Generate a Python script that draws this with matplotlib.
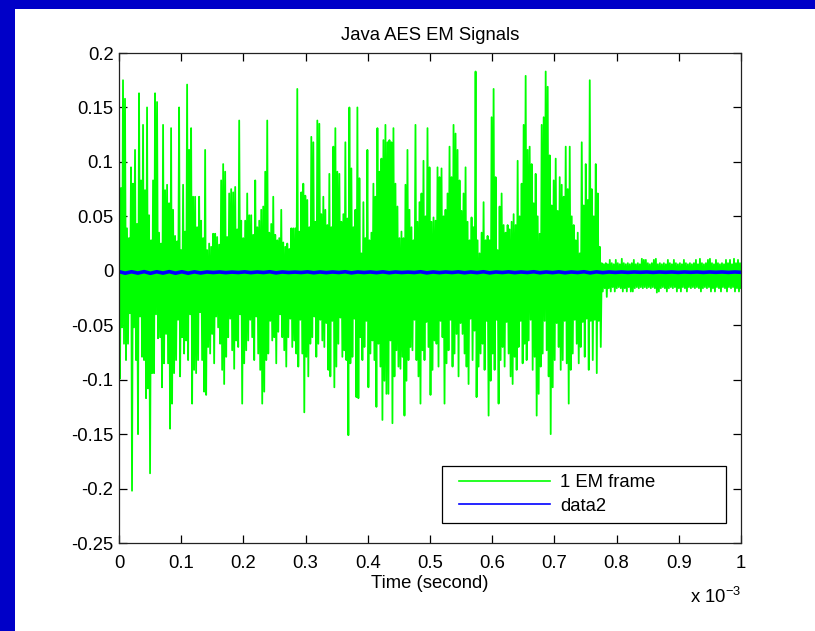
import numpy as np
import matplotlib
matplotlib.use("Agg")
import matplotlib.pyplot as plt
from matplotlib.patches import Rectangle
from matplotlib.legend_handler import HandlerLine2D

plt.rcParams['font.family'] = ['Liberation Sans', 'DejaVu Sans']
plt.rcParams['mathtext.fontset'] = 'custom'
plt.rcParams['mathtext.rm'] = 'Liberation Sans'
plt.rcParams['mathtext.it'] = 'Liberation Sans:italic'

# ---------------- data (volts) ----------------
# Positive / negative excursions of the EM frame, active part (0 .. ~0.775 ms)
active_pos = [
    0.134, 0.076, 0.175, 0.158, 0.039, 0.030, 0.095, 0.080, 0.111, 0.043,
    0.163, 0.083, 0.134, 0.074, 0.150, 0.051, 0.028, 0.083, 0.163, 0.155,
    0.035, 0.025, 0.134, 0.074, 0.079, 0.062, 0.131, 0.056, 0.032, 0.027,
    0.150, 0.019, 0.079, 0.036, 0.171, 0.111, 0.131, 0.068, 0.068, 0.040,
    0.068, 0.046, 0.030, 0.111, 0.019, 0.025, 0.022, 0.034, 0.034, 0.031,
    0.024, 0.083, 0.098, 0.091, 0.031, 0.071, 0.075, 0.072, 0.077, 0.038,
    0.138, 0.046, 0.030, 0.046, 0.071, 0.051, 0.051, 0.033, 0.083, 0.040,
    0.046, 0.056, 0.059, 0.091, 0.138, 0.035, 0.043, 0.068, 0.033, 0.028,
    0.030, 0.056, 0.026, 0.022, 0.025, 0.020, 0.039, 0.039, 0.039, 0.167,
    0.036, 0.072, 0.080, 0.069, 0.065, 0.040, 0.123, 0.118, 0.045, 0.138,
    0.135, 0.052, 0.068, 0.056, 0.042, 0.089, 0.040, 0.114, 0.131, 0.091,
    0.089, 0.045, 0.052, 0.118, 0.048, 0.150, 0.094, 0.040, 0.056, 0.150,
    0.085, 0.016, 0.063, 0.030, 0.111, 0.028, 0.035, 0.080, 0.068, 0.131,
    0.091, 0.103, 0.120, 0.134, 0.118, 0.120, 0.118, 0.131, 0.080, 0.059,
    0.030, 0.036, 0.030, 0.079, 0.111, 0.056, 0.040, 0.028, 0.134, 0.045,
    0.063, 0.071, 0.101, 0.050, 0.131, 0.095, 0.045, 0.049, 0.046, 0.095,
    0.086, 0.094, 0.050, 0.056, 0.071, 0.114, 0.086, 0.134, 0.126, 0.111,
    0.083, 0.055, 0.071, 0.095, 0.045, 0.028, 0.049, 0.040, 0.183, 0.028,
    0.016, 0.035, 0.063, 0.028, 0.032, 0.028, 0.141, 0.167, 0.086, 0.019,
    0.059, 0.071, 0.042, 0.035, 0.042, 0.038, 0.045, 0.052, 0.042, 0.101,
    0.050, 0.080, 0.134, 0.179, 0.111, 0.114, 0.098, 0.062, 0.089, 0.050,
    0.034, 0.134, 0.141, 0.183, 0.169, 0.106, 0.060, 0.083, 0.103, 0.055,
    0.086, 0.079, 0.068, 0.114, 0.075, 0.114, 0.050, 0.042, 0.028, 0.035,
    0.016, 0.118, 0.060, 0.098, 0.065, 0.175, 0.075, 0.050, 0.098, 0.071,
    0.022,
]
active_neg = [
    -0.099, -0.052, -0.067, -0.082, -0.067, -0.039, -0.202, -0.052, -0.082, -0.150,
    -0.042, -0.079, -0.082, -0.117, -0.108, -0.186, -0.094, -0.094, -0.040, -0.062,
    -0.061, -0.107, -0.085, -0.058, -0.085, -0.145, -0.122, -0.094, -0.082, -0.045,
    -0.097, -0.061, -0.076, -0.064, -0.082, -0.040, -0.122, -0.091, -0.094, -0.082,
    -0.038, -0.082, -0.111, -0.114, -0.070, -0.076, -0.058, -0.085, -0.042, -0.052,
    -0.067, -0.091, -0.104, -0.079, -0.061, -0.044, -0.073, -0.090, -0.064, -0.070,
    -0.040, -0.122, -0.085, -0.073, -0.064, -0.045, -0.061, -0.082, -0.042, -0.076,
    -0.091, -0.122, -0.111, -0.082, -0.076, -0.046, -0.064, -0.061, -0.085, -0.056,
    -0.040, -0.061, -0.073, -0.088, -0.061, -0.044, -0.070, -0.064, -0.076, -0.088,
    -0.045, -0.076, -0.130, -0.079, -0.097, -0.067, -0.061, -0.042, -0.079, -0.067,
    -0.045, -0.064, -0.070, -0.048, -0.091, -0.097, -0.046, -0.107, -0.088, -0.067,
    -0.043, -0.079, -0.073, -0.082, -0.151, -0.085, -0.079, -0.044, -0.116, -0.117,
    -0.061, -0.082, -0.070, -0.046, -0.107, -0.076, -0.064, -0.082, -0.125, -0.067,
    -0.088, -0.137, -0.101, -0.113, -0.113, -0.064, -0.140, -0.097, -0.073, -0.088,
    -0.090, -0.079, -0.133, -0.101, -0.082, -0.070, -0.073, -0.045, -0.082, -0.097,
    -0.122, -0.073, -0.082, -0.047, -0.070, -0.114, -0.091, -0.064, -0.067, -0.088,
    -0.046, -0.061, -0.122, -0.085, -0.073, -0.045, -0.088, -0.076, -0.058, -0.097,
    -0.048, -0.058, -0.076, -0.088, -0.104, -0.044, -0.082, -0.055, -0.116, -0.088,
    -0.076, -0.067, -0.091, -0.046, -0.133, -0.101, -0.076, -0.091, -0.045, -0.122,
    -0.082, -0.070, -0.088, -0.047, -0.076, -0.097, -0.104, -0.079, -0.091, -0.070,
    -0.046, -0.085, -0.067, -0.082, -0.064, -0.045, -0.091, -0.079, -0.133, -0.113,
    -0.088, -0.076, -0.046, -0.073, -0.097, -0.150, -0.107, -0.082, -0.048, -0.070,
    -0.091, -0.082, -0.046, -0.085, -0.122, -0.091, -0.076, -0.045, -0.067, -0.085,
    -0.070, -0.047, -0.079, -0.044, -0.091, -0.046, -0.082, -0.045, -0.094, -0.046,
    -0.070,
]
# Quiet tail (~0.775 .. 1 ms)
tail_pos = [
    0.007, 0.006, 0.007, 0.006, 0.010, 0.007, 0.006, 0.010, 0.007, 0.006,
    0.011, 0.007, 0.006, 0.007, 0.006, 0.007, 0.010, 0.006, 0.007, 0.006,
    0.011, 0.010, 0.010, 0.007, 0.006, 0.007, 0.010, 0.011, 0.006, 0.007,
    0.006, 0.007, 0.006, 0.010, 0.007, 0.006, 0.010, 0.007, 0.006, 0.007,
    0.006, 0.010, 0.007, 0.006, 0.007, 0.006, 0.007, 0.010, 0.006, 0.011,
    0.007, 0.006, 0.007, 0.010, 0.011, 0.007, 0.006, 0.010, 0.007, 0.006,
    0.007, 0.006, 0.010, 0.007, 0.010, 0.006, 0.011, 0.007, 0.010, 0.007,
]
tail_neg = [
    -0.019, -0.016, -0.024, -0.016, -0.019, -0.015, -0.019, -0.016, -0.015, -0.016,
    -0.019, -0.016, -0.019, -0.015, -0.019, -0.019, -0.016, -0.015, -0.016, -0.015,
    -0.016, -0.015, -0.016, -0.015, -0.016, -0.015, -0.016, -0.020, -0.019, -0.016,
    -0.015, -0.016, -0.019, -0.016, -0.015, -0.016, -0.015, -0.019, -0.016, -0.019,
    -0.015, -0.016, -0.019, -0.015, -0.016, -0.015, -0.016, -0.015, -0.016, -0.019,
    -0.016, -0.015, -0.016, -0.015, -0.019, -0.016, -0.019, -0.015, -0.016, -0.019,
    -0.015, -0.016, -0.019, -0.015, -0.016, -0.015, -0.019, -0.016, -0.019, -0.016,
]
data2 = [
    -0.0008, -0.0022, -0.0009, -0.0021, -0.0008, -0.0023, -0.0009, -0.0021, -0.0008, -0.0022,
    -0.0009, -0.0022, -0.0010, -0.0020, -0.0011, -0.0016, -0.0011, -0.0017, -0.0012, -0.0016,
    -0.0010, -0.0017, -0.0011, -0.0016, -0.0009, -0.0019, -0.0011, -0.0016, -0.0012, -0.0016,
    -0.0010, -0.0018, -0.0011, -0.0017, -0.0011, -0.0016, -0.0009, -0.0019, -0.0011, -0.0016,
    -0.0011, -0.0017, -0.0010, -0.0018, -0.0011, -0.0016, -0.0012, -0.0016, -0.0009, -0.0019,
    -0.0011, -0.0017, -0.0011, -0.0016, -0.0010, -0.0018, -0.0011, -0.0017, -0.0009, -0.0019,
    -0.0011, -0.0016, -0.0010, -0.0017, -0.0011, -0.0016, -0.0009, -0.0018, -0.0011, -0.0017,
    -0.0010, -0.0018, -0.0011, -0.0016, -0.0009, -0.0019, -0.0010, -0.0017, -0.0011, -0.0015,
    -0.0011, -0.0015, -0.0011, -0.0014, -0.0011, -0.0015, -0.0011, -0.0014, -0.0011, -0.0015,
    -0.0011, -0.0014, -0.0011, -0.0015, -0.0011, -0.0014, -0.0011, -0.0015, -0.0011, -0.0014,
]
series_labels = ['1 EM frame', 'data2']
x_ticks_ms = [0, 0.1, 0.2, 0.3, 0.4, 0.5, 0.6, 0.7, 0.8, 0.9, 1]
x_tick_labels = ['0', '0.1', '0.2', '0.3', '0.4', '0.5', '0.6', '0.7', '0.8', '0.9', '1']
y_ticks = [-0.25, -0.2, -0.15, -0.1, -0.05, 0, 0.05, 0.1, 0.15, 0.2]
y_tick_labels = ['-0.25', '-0.2', '-0.15', '-0.1', '-0.05', '0', '0.05', '0.1', '0.15', '0.2']
t_max = 1e-3

# ---------------- build series ----------------
pos = np.array(active_pos + tail_pos)
neg = np.array(active_neg + tail_neg)
green = np.empty(2 * len(pos))
green[0::2] = pos
green[1::2] = neg
t_green = np.linspace(0, t_max, len(green))
t_blue = np.linspace(0, t_max, len(data2))

FS = 13.3
fig = plt.figure(figsize=(8.15, 6.31), dpi=100)
fig.patch.set_facecolor('white')
fig.add_artist(Rectangle((0, 0), 15 / 815, 1, transform=fig.transFigure,
                         facecolor='#0000C8', edgecolor='none'))
fig.add_artist(Rectangle((0, 1 - 9 / 631), 1, 9 / 631, transform=fig.transFigure,
                         facecolor='#0000C8', edgecolor='none'))

ax = fig.add_axes([119 / 815, 1 - 543 / 631, 622 / 815, 490 / 631])
l1, = ax.plot(t_green, green, color='#00FF00', lw=1.3, label=series_labels[0])
l2, = ax.plot(t_blue, data2, color='#0000FF', lw=2.6, label=series_labels[1])

ax.set_xlim(0, t_max)
ax.set_ylim(-0.25, 0.2)
ax.set_xticks(np.array(x_ticks_ms) * 1e-3, labels=x_tick_labels)
ax.set_yticks(y_ticks, labels=y_tick_labels)
ax.tick_params(direction='in', length=6, width=0.9, top=True, right=True,
               labelsize=FS, colors='black')
ax.tick_params(axis='x', pad=8.5)
ax.tick_params(axis='y', pad=4)
for s in ax.spines.values():
    s.set_linewidth(0.9)
    s.set_color('#222222')

ax.set_title('Java AES EM Signals', fontsize=FS, pad=9)
ax.set_xlabel('Time (second)', fontsize=FS, labelpad=2)
ax.text(1.0, -0.11, r'x 10$^{\mathrm{-3}}$', transform=ax.transAxes,
        ha='right', va='center', fontsize=FS)

hmap = {l1: HandlerLine2D(xpad=0.5), l2: HandlerLine2D(xpad=0.5)}
leg = ax.legend(handles=[l1, l2], loc='lower left', handler_map=hmap,
                bbox_to_anchor=(0.519, 0.041, 0.457, 0.122), mode='expand',
                borderaxespad=0, fontsize=FS, handlelength=5.4, handletextpad=0.55,
                labelspacing=0.35, borderpad=0.45, fancybox=False, framealpha=1,
                edgecolor='black')
leg.get_frame().set_linewidth(0.9)
for h in leg.get_lines():
    h.set_linewidth(1.2)

fig.savefig('out.png', dpi=100)
